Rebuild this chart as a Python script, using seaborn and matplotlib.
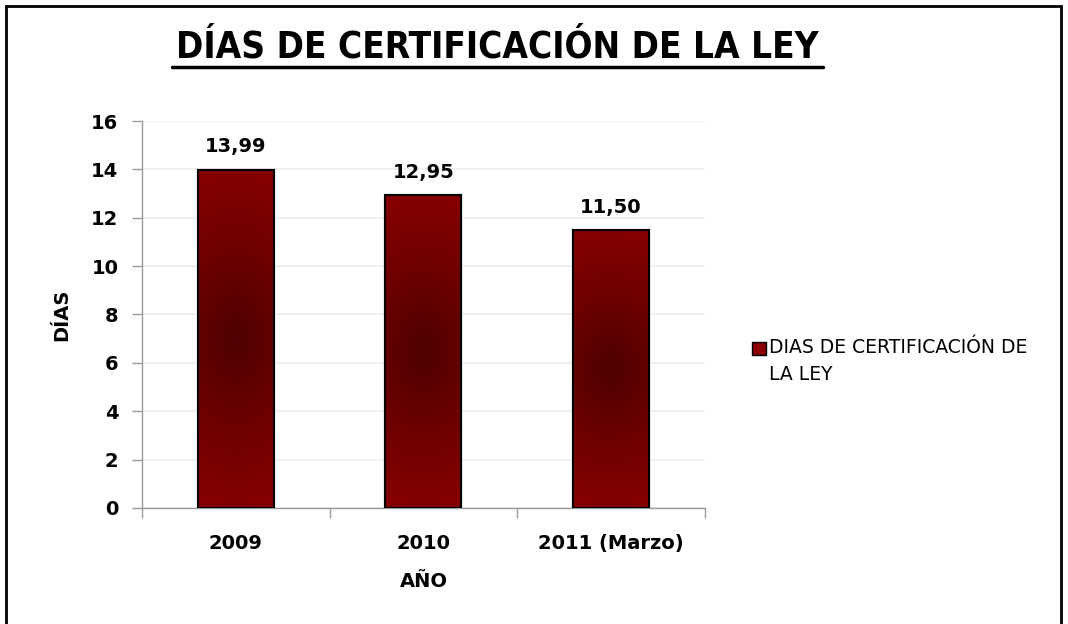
import numpy as np
import pandas as pd
import seaborn as sns
import matplotlib.pyplot as plt
from matplotlib.patches import Rectangle
from matplotlib.colors import LinearSegmentedColormap

# datos
anios = ['2009', '2010', '2011 (Marzo)']
dias = [13.99, 12.95, 11.50]
etiquetas = ['13,99', '12,95', '11,50']
serie = 'DIAS DE CERTIFICACIÓN DE\nLA LEY'

df = pd.DataFrame({'AÑO': anios, 'DÍAS': dias})

sns.set_style('white')
plt.rcParams['font.family'] = ['DejaVu Sans']
plt.rcParams['text.color'] = 'black'
plt.rcParams['axes.labelcolor'] = 'black'

fig = plt.figure(figsize=(10.68, 6.24), dpi=100)
ax = fig.add_axes([0.133, 0.186, 0.527, 0.620])

sns.barplot(data=df, x='AÑO', y='DÍAS', color='#8b0000', width=0.405,
            edgecolor='black', linewidth=1.5, ax=ax, zorder=2)

# degradado dentro de cada barra (mas oscuro al centro)
cmap = LinearSegmentedColormap.from_list('rojo', ['#4e0000', '#6c0000', '#850000'])
yy, xx = np.mgrid[-1:1:200j, -1:1:60j]
r = np.clip(np.sqrt((xx * 0.35) ** 2 + yy ** 2), 0, 1)
for p in ax.patches:
    x0, w, h = p.get_x(), p.get_width(), p.get_height()
    im = ax.imshow(r, cmap=cmap, vmin=0, vmax=1, aspect='auto',
                   extent=[x0, x0 + w, 0, h], zorder=2.5)
    im.set_clip_path(p)
    ax.add_patch(Rectangle((x0, 0), w, h, fill=False, edgecolor='black',
                           linewidth=1.5, zorder=3))

for i, (v, t) in enumerate(zip(dias, etiquetas)):
    ax.text(i, v + 0.55, t, ha='center', va='bottom', fontsize=14,
            fontweight='bold')

ax.set_xlim(-0.5, 2.5)
ax.set_ylim(0, 16)
ax.set_yticks(range(0, 17, 2))
ax.set_xticks([-0.5, 0.5, 1.5, 2.5], minor=True)
ax.tick_params(axis='x', which='major', bottom=False, pad=15, labelsize=14,
               labelcolor='black')
ax.tick_params(axis='x', which='minor', bottom=True, length=7, color='#999999', width=1)
ax.tick_params(axis='y', left=True, length=7, color='#999999', width=1,
               labelsize=14, pad=10, labelcolor='black')
for lab in ax.get_xticklabels() + ax.get_yticklabels():
    lab.set_fontweight('bold')
ax.grid(axis='y', color='#eeeeee', linewidth=1.2, zorder=0)
ax.set_axisbelow(True)
for s in ['top', 'right']:
    ax.spines[s].set_visible(False)
for s in ['left', 'bottom']:
    ax.spines[s].set_color('#999999')
    ax.spines[s].set_linewidth(1)

ax.set_xlabel('AÑO', fontsize=14, fontweight='bold', labelpad=14)
ax.set_ylabel('DÍAS', fontsize=14, fontweight='bold', labelpad=14)

# leyenda
handle = Rectangle((0, 0), 1, 1, facecolor='#8b0000', edgecolor='black', linewidth=1)
leg = fig.legend([handle], [serie], loc='upper left', bbox_to_anchor=(0.688, 0.485),
                 frameon=False, handlelength=0.75, handleheight=0.75,
                 handletextpad=0.2, prop={'size': 13.5, 'weight': 'medium'})
for t in leg.get_texts():
    t.set_linespacing(1.55)
# subir el cuadrito a la altura de la primera linea
lh = leg.legend_handles[0]
lh.set_y(lh.get_y() + 10)

# titulo
fig.text(0.466, 0.924, 'DÍAS DE CERTIFICACIÓN DE LA LEY', ha='center', va='center',
         fontsize=26.5, fontweight='bold', fontstretch='condensed')
fig.add_artist(plt.Line2D([0.161, 0.771], [0.892, 0.892], transform=fig.transFigure,
                          color='black', linewidth=2.5))

# marco
fig.patches.append(Rectangle((0.006, -0.02), 0.987, 1.01, transform=fig.transFigure,
                             fill=False, edgecolor='black', linewidth=2))

fig.savefig('out.png', dpi=100)
